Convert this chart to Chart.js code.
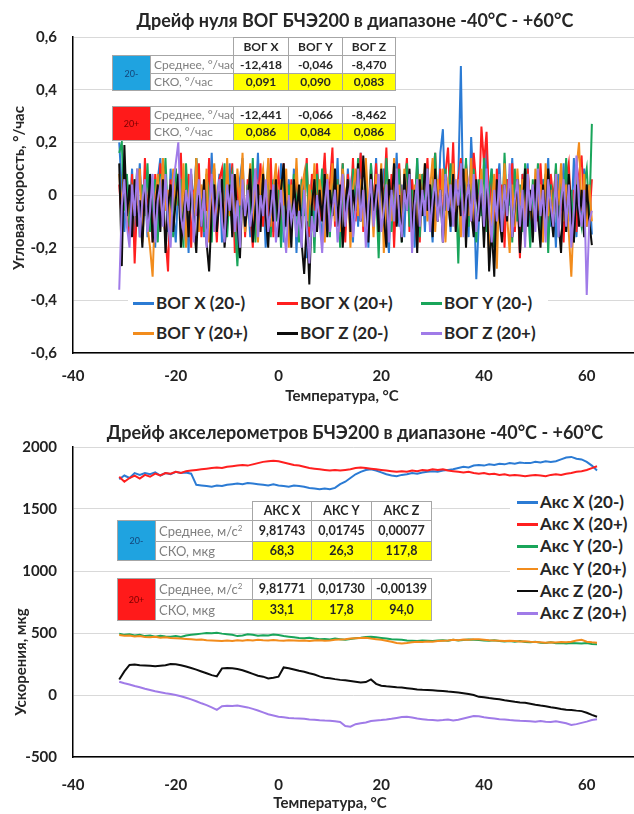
<!DOCTYPE html>
<html>
<head>
<meta charset="utf-8">
<script src="https://cdn.jsdelivr.net/npm/chart.js@4.4.1/dist/chart.umd.min.js"></script>
<style>
body { margin: 0; background: #fff; font-family: Lato, 'Open Sans', sans-serif; color: #262626; }
#page { position: relative; width: 634px; height: 814px; overflow: hidden; }
canvas { position: absolute; left: 0; }
.t { position: absolute; white-space: nowrap; font-weight: bold; transform: translate(-50%, -50%); }
.ttl { font-size: 18px; }
.ax { font-size: 15px; }
.rot { transform: translate(-50%, -50%) rotate(-90deg); }
.lg { position: absolute; background: #fff; }
.li { position: absolute; white-space: nowrap; font-weight: bold; font-size: 17px; line-height: 20px; height: 20px; }
.li i { position: absolute; left: 0; top: 9px; width: 21px; height: 2.5px; }
.li span { position: absolute; left: 23px; top: 0; }
table.st { position: absolute; border-collapse: collapse; table-layout: fixed; }
table.st td { border: 1px solid #a6a6a6; padding: 0; background: #fff; text-align: center; font-weight: bold;
  white-space: nowrap; overflow: hidden; line-height: 1; }
table.st td.e { border: none; background: transparent; }
table.st td.l { text-align: left; font-weight: normal; color: #7f7f7f; padding-left: 3px; }
table.st td.y { background: #ffff00; }
table.st td.c { font-size: 9px; font-weight: normal; }
</style>
</head>
<body>
<div id="page">
  <canvas id="gyro" width="634" height="404" style="top:0"></canvas>
  <canvas id="acc" width="634" height="404" style="top:410px"></canvas>
</div>
<script>
const xTickValues = [-40, -20, 0, 20, 40, 60];

// temperature, °C, for the gyro records (half-degree steps)
const gyroTemps = [
  -31, -30.5, -30, -29.5, -29, -28.5, -28, -27.5, -27, -26.5,
  -26, -25.5, -25, -24.5, -24, -23.5, -23, -22.5, -22, -21.5,
  -21, -20.5, -20, -19.5, -19, -18.5, -18, -17.5, -17, -16.5,
  -16, -15.5, -15, -14.5, -14, -13.5, -13, -12.5, -12, -11.5,
  -11, -10.5, -10, -9.5, -9, -8.5, -8, -7.5, -7, -6.5,
  -6, -5.5, -5, -4.5, -4, -3.5, -3, -2.5, -2, -1.5,
  -1, -0.5, 0, 0.5, 1, 1.5, 2, 2.5, 3, 3.5,
  4, 4.5, 5, 5.5, 6, 6.5, 7, 7.5, 8, 8.5,
  9, 9.5, 10, 10.5, 11, 11.5, 12, 12.5, 13, 13.5,
  14, 14.5, 15, 15.5, 16, 16.5, 17, 17.5, 18, 18.5,
  19, 19.5, 20, 20.5, 21, 21.5, 22, 22.5, 23, 23.5,
  24, 24.5, 25, 25.5, 26, 26.5, 27, 27.5, 28, 28.5,
  29, 29.5, 30, 30.5, 31, 31.5, 32, 32.5, 33, 33.5,
  34, 34.5, 35, 35.5, 36, 36.5, 37, 37.5, 38, 38.5,
  39, 39.5, 40, 40.5, 41, 41.5, 42, 42.5, 43, 43.5,
  44, 44.5, 45, 45.5, 46, 46.5, 47, 47.5, 48, 48.5,
  49, 49.5, 50, 50.5, 51, 51.5, 52, 52.5, 53, 53.5,
  54, 54.5, 55, 55.5, 56, 56.5, 57, 57.5, 58, 58.5,
  59, 59.5, 60, 60.5, 61
];

// gyro drift, °/час
const gyroX_minus = [
  0.20, 0.02, -0.14, 0.06, -0.08, 0.10, -0.18, -0.04, 0.12, -0.10,
  0.04, -0.16, 0.08, -0.02, -0.20, 0.06, 0.14, -0.08, 0.02, -0.14,
  0.10, -0.06, -0.18, 0.04, 0.12, -0.12, 0.00, -0.22, 0.08, -0.04,
  0.14, -0.10, 0.02, -0.16, 0.06, -0.06, 0.16, -0.12, -0.02, 0.08,
  -0.18, 0.04, -0.08, 0.12, -0.14, 0.02, -0.20, 0.06, 0.14, -0.10,
  0.00, -0.16, 0.10, -0.06, 0.16, -0.12, 0.04, -0.20, -0.06, 0.08,
  -0.14, 0.02, -0.10, 0.12, -0.18, -0.04, 0.06, -0.12, 0.10, -0.22,
  0.02, -0.08, 0.08, -0.24, -0.04, 0.06, -0.14, 0.10, -0.06, -0.18,
  0.12, -0.02, -0.14, 0.08, -0.08, 0.14, -0.16, 0.02, -0.10, 0.10,
  -0.06, -0.18, 0.06, -0.12, 0.16, -0.04, 0.04, -0.20, 0.12, -0.08,
  0.14, -0.14, 0.00, 0.10, -0.10, -0.22, 0.06, -0.04, 0.16, -0.12,
  0.04, -0.16, 0.12, -0.06, 0.02, -0.20, 0.14, -0.08, 0.06, -0.14,
  0.10, -0.04, -0.18, 0.08, -0.10, 0.16, 0.25, -0.06, 0.02, -0.14,
  0.12, -0.08, 0.06, 0.49, -0.10, 0.04, -0.16, 0.22, 0.02, -0.32,
  -0.10, 0.06, -0.14, 0.18, -0.06, 0.10, -0.20, 0.02, 0.12, -0.08,
  -0.16, 0.06, -0.04, 0.14, -0.12, 0.02, -0.22, 0.08, -0.06, 0.12,
  -0.14, 0.04, -0.10, 0.10, -0.18, 0.06, -0.02, 0.14, -0.12, 0.00,
  -0.20, 0.08, -0.06, 0.12, -0.14, 0.04, -0.10, 0.14, -0.16, 0.06,
  -0.08, 0.10, -0.12, 0.04, -0.15
];
const gyroX_plus = [
  0.04, -0.10, 0.12, -0.04, -0.16, 0.08, -0.26, -0.02, 0.10, -0.14,
  0.14, -0.06, 0.02, -0.18, 0.08, -0.10, 0.12, -0.04, -0.16, -0.29,
  0.06, -0.12, 0.10, -0.02, 0.16, -0.14, -0.04, 0.08, -0.20, 0.02,
  -0.08, 0.12, -0.16, 0.04, -0.06, 0.14, -0.12, 0.00, -0.18, 0.06,
  0.10, -0.14, 0.02, -0.08, 0.12, -0.22, 0.04, -0.04, 0.08, -0.16,
  0.06, -0.06, -0.20, 0.10, -0.02, 0.12, -0.12, 0.04, -0.08, 0.14,
  -0.16, 0.02, 0.08, -0.10, 0.12, -0.04, -0.18, 0.06, -0.08, 0.10,
  -0.12, 0.04, -0.02, 0.14, -0.16, 0.08, -0.06, 0.12, -0.10, 0.02,
  0.16, -0.08, 0.04, 0.18, -0.12, 0.06, -0.04, 0.12, -0.18, 0.08,
  -0.06, 0.14, -0.10, 0.04, 0.16, -0.14, 0.02, -0.08, 0.10, -0.04,
  0.12, -0.16, 0.06, -0.02, 0.18, -0.10, 0.08, -0.20, 0.04, 0.12,
  -0.08, 0.02, 0.14, -0.14, 0.06, -0.04, 0.10, -0.18, 0.08, -0.02,
  0.14, -0.10, 0.04, 0.16, -0.06, 0.10, -0.14, 0.08, 0.18, -0.04,
  0.20, -0.12, 0.06, 0.14, -0.08, 0.12, 0.02, -0.10, 0.16, 0.04,
  -0.06, 0.26, 0.12, 0.24, -0.04, 0.08, -0.16, 0.10, -0.10, 0.04,
  -0.20, 0.06, -0.02, 0.12, -0.14, 0.02, -0.24, 0.08, -0.08, 0.10,
  -0.04, -0.16, 0.06, -0.10, 0.12, -0.06, 0.02, -0.14, 0.08, -0.02,
  0.10, -0.12, 0.04, -0.18, 0.06, 0.12, -0.08, 0.02, -0.14, 0.08,
  0.15, -0.06, 0.04, -0.10, 0.06
];
const gyroY_minus = [
  0.16, 0.20, -0.06, 0.08, -0.12, 0.02, -0.04, 0.10, -0.16, 0.04,
  -0.08, 0.12, -0.14, -0.02, 0.06, -0.18, 0.08, -0.06, 0.14, -0.10,
  0.02, -0.16, 0.10, -0.04, 0.06, -0.20, 0.12, -0.08, 0.04, -0.12,
  0.14, -0.06, 0.02, -0.14, 0.08, -0.02, -0.18, 0.10, -0.10, 0.04,
  -0.04, 0.12, -0.16, 0.02, 0.08, -0.10, -0.27, -0.06, 0.10, -0.14,
  0.04, -0.08, 0.14, -0.18, 0.00, -0.12, 0.08, -0.04, 0.12, -0.16,
  0.06, -0.10, 0.02, -0.20, 0.10, -0.06, 0.04, -0.14, 0.08, -0.02,
  -0.18, 0.06, -0.08, 0.12, -0.12, 0.02, -0.22, 0.08, -0.04, 0.10,
  -0.10, 0.04, -0.16, 0.10, -0.02, 0.06, -0.20, 0.12, -0.08, 0.02,
  -0.14, 0.10, -0.04, 0.14, -0.10, -0.02, 0.06, -0.16, 0.12, -0.06,
  0.02, -0.24, 0.08, -0.10, 0.14, -0.04, -0.14, 0.06, -0.08, 0.10,
  -0.18, 0.04, 0.12, -0.12, 0.02, -0.06, 0.14, -0.16, 0.08, -0.02,
  0.10, -0.12, 0.04, 0.16, -0.08, 0.02, -0.14, 0.10, -0.04, 0.12,
  -0.10, 0.04, -0.26, 0.08, -0.06, 0.14, -0.12, 0.02, 0.10, -0.18,
  0.06, -0.08, 0.14, -0.14, 0.02, 0.10, -0.20, -0.04, 0.08, -0.12,
  0.16, -0.06, 0.02, -0.18, 0.10, -0.10, 0.04, -0.14, 0.12, -0.02,
  -0.20, 0.06, -0.08, 0.12, -0.14, 0.02, 0.08, -0.22, 0.04, -0.06,
  0.12, -0.16, 0.06, -0.04, 0.14, -0.10, 0.02, -0.18, 0.10, -0.06,
  -0.12, 0.04, 0.10, -0.08, 0.27
];
const gyroY_plus = [
  0.08, -0.06, 0.12, -0.10, 0.02, -0.14, 0.06, -0.04, 0.10, -0.18,
  0.04, -0.12, -0.20, -0.31, -0.02, 0.08, -0.10, 0.14, -0.06, 0.02,
  -0.16, 0.10, -0.04, 0.06, -0.12, 0.12, -0.20, 0.00, 0.08, -0.08,
  0.14, -0.14, 0.04, -0.06, 0.10, -0.18, 0.02, 0.12, -0.10, -0.02,
  0.06, -0.16, 0.14, -0.08, 0.02, -0.12, 0.10, -0.04, 0.16, -0.14,
  -0.02, 0.12, -0.10, 0.06, -0.18, 0.04, 0.10, -0.06, 0.14, -0.12,
  0.02, 0.12, -0.14, 0.06, -0.04, 0.10, -0.20, 0.04, -0.08, 0.14,
  -0.10, 0.02, 0.08, -0.16, 0.04, -0.06, 0.12, -0.12, 0.06, -0.02,
  -0.18, 0.08, -0.04, 0.12, -0.10, 0.04, -0.14, 0.10, -0.02, 0.06,
  -0.20, 0.02, 0.10, -0.08, 0.06, -0.12, 0.14, -0.04, 0.02, -0.16,
  0.08, -0.06, 0.12, -0.22, -0.04, 0.06, -0.10, 0.14, -0.08, 0.04,
  -0.16, 0.10, -0.02, 0.06, -0.12, 0.04, -0.20, 0.08, -0.04, 0.12,
  -0.10, 0.02, 0.14, -0.14, 0.06, -0.06, 0.10, -0.18, 0.04, -0.02,
  0.12, -0.10, 0.06, -0.16, 0.02, 0.10, -0.08, 0.14, -0.12, 0.04,
  -0.06, 0.10, -0.14, 0.02, -0.24, -0.04, 0.08, -0.28, 0.06, -0.10,
  0.12, -0.08, -0.22, 0.04, -0.12, 0.10, -0.04, 0.06, -0.16, 0.08,
  -0.02, -0.14, 0.10, -0.06, 0.04, -0.18, 0.12, -0.08, 0.02, -0.12,
  0.08, -0.04, 0.12, -0.10, 0.04, -0.14, -0.31, -0.06, 0.10, 0.20,
  -0.06, 0.08, -0.12, 0.04, -0.10
];
const gyroZ_minus = [
  0.12, -0.27, 0.19, -0.08, 0.04, -0.16, 0.06, -0.12, -0.02, -0.20,
  0.02, -0.10, 0.08, -0.18, -0.06, 0.04, -0.14, 0.06, -0.22, -0.04,
  0.04, -0.14, -0.02, 0.08, -0.20, -0.08, 0.02, -0.16, 0.06, -0.10,
  -0.22, 0.00, -0.12, 0.06, -0.18, -0.29, -0.06, 0.04, -0.14, -0.02,
  0.06, -0.20, -0.08, 0.04, -0.16, 0.08, -0.10, -0.24, 0.02, -0.12,
  -0.04, 0.10, -0.18, -0.06, 0.04, -0.14, 0.08, -0.08, -0.20, 0.02,
  -0.10, 0.06, -0.16, 0.02, 0.12, -0.12, -0.02, -0.20, 0.06, -0.08,
  0.04, -0.18, -0.30, -0.10, -0.34, -0.04, 0.06, -0.14, 0.02, -0.10,
  0.08, -0.16, 0.02, -0.08, 0.10, -0.12, 0.04, -0.20, -0.04, 0.06,
  -0.14, 0.02, -0.06, 0.12, -0.10, 0.15, -0.02, -0.18, 0.08, -0.06,
  0.04, -0.14, 0.10, -0.08, -0.20, 0.06, -0.04, 0.12, -0.12, 0.00,
  -0.18, 0.08, -0.06, 0.10, -0.14, 0.02, -0.22, 0.06, -0.08, 0.12,
  -0.06, 0.04, -0.16, 0.10, -0.10, 0.02, -0.18, 0.06, -0.02, -0.12,
  0.08, -0.14, 0.02, -0.08, 0.10, -0.20, 0.04, -0.06, -0.16, 0.06,
  -0.10, 0.02, -0.20, 0.04, -0.29, -0.12, -0.31, 0.06, -0.08, -0.18,
  0.04, -0.10, 0.08, -0.16, -0.04, 0.06, -0.22, -0.06, 0.10, -0.12,
  0.02, -0.18, 0.06, -0.08, -0.20, 0.04, -0.12, 0.10, -0.06, -0.16,
  0.06, -0.10, -0.22, 0.02, -0.14, 0.08, -0.08, -0.18, 0.04, -0.12,
  0.02, -0.16, 0.04, -0.10, -0.19
];
const gyroZ_plus = [
  -0.36, -0.04, 0.06, -0.12, -0.20, 0.04, -0.08, 0.10, -0.16, -0.02,
  0.06, -0.14, -0.06, 0.08, -0.18, -0.02, 0.04, -0.12, 0.08, -0.10,
  -0.20, 0.04, 0.12, 0.20, -0.08, -0.14, 0.02, -0.06, 0.10, -0.18,
  -0.04, 0.06, -0.12, 0.02, -0.20, -0.06, 0.08, -0.14, -0.02, 0.06,
  -0.10, -0.18, 0.04, -0.06, 0.08, -0.14, -0.02, -0.20, 0.06, -0.08,
  0.02, -0.12, -0.04, 0.10, -0.16, 0.00, -0.08, 0.06, -0.14, -0.06,
  0.04, -0.18, -0.08, 0.02, -0.12, -0.22, 0.00, -0.10, -0.04, -0.16,
  -0.06, -0.20, 0.02, -0.12, -0.26, -0.08, -0.16, 0.00, -0.10, -0.22,
  -0.04, 0.06, -0.14, -0.06, 0.02, -0.18, -0.08, 0.08, -0.12, -0.02,
  0.04, -0.16, -0.06, 0.10, -0.10, 0.02, -0.20, -0.04, 0.06, -0.12,
  -0.02, 0.08, -0.14, -0.06, 0.04, -0.18, 0.02, -0.10, 0.10, -0.08,
  -0.16, 0.02, -0.06, 0.08, -0.22, -0.04, 0.06, -0.12, 0.02, -0.08,
  0.10, -0.14, -0.02, 0.06, -0.10, 0.02, -0.18, 0.08, -0.06, 0.04,
  -0.12, 0.06, -0.04, 0.12, -0.16, -0.02, 0.04, -0.10, 0.08, -0.14,
  -0.04, 0.06, -0.12, 0.10, -0.06, -0.18, 0.02, -0.10, 0.08, -0.14,
  0.04, -0.08, 0.12, -0.16, -0.02, 0.06, -0.12, 0.02, -0.20, 0.08,
  -0.06, 0.04, -0.14, 0.10, -0.08, 0.02, -0.18, 0.06, -0.04, -0.12,
  0.08, -0.16, -0.02, 0.06, -0.12, 0.04, -0.20, -0.06, 0.15, -0.04,
  -0.12, 0.02, -0.38, -0.10, -0.06
];

// temperature, °C, for the accelerometer records
const accTemps = [
  -31, -30, -29, -28, -27, -26, -25, -24, -23, -22,
  -21, -20, -19, -18, -17, -16, -15, -14, -13, -12,
  -11, -10, -9, -8, -7, -6, -5, -4, -3, -2,
  -1, 0, 1, 2, 3, 4, 5, 6, 7, 8,
  9, 10, 11, 12, 13, 14, 15, 16, 17, 18,
  19, 20, 21, 22, 23, 24, 25, 26, 27, 28,
  29, 30, 31, 32, 33, 34, 35, 36, 37, 38,
  39, 40, 41, 42, 43, 44, 45, 46, 47, 48,
  49, 50, 51, 52, 53, 54, 55, 56, 57, 58,
  59, 60, 61, 62
];

// accelerometer drift, мкg
const accX_minus = [
  1740, 1770, 1750, 1790, 1775, 1790, 1780, 1795, 1770, 1790,
  1780, 1800, 1790, 1795, 1785, 1695, 1690, 1685, 1680, 1690,
  1685, 1695, 1700, 1705, 1700, 1710, 1705, 1700, 1695, 1690,
  1700, 1690, 1685, 1680, 1690, 1685, 1680, 1670, 1665, 1660,
  1665, 1660, 1670, 1700, 1720, 1750, 1780, 1800, 1815, 1820,
  1810, 1795, 1780, 1770, 1765, 1775, 1780, 1790, 1785, 1795,
  1800, 1805, 1800, 1810, 1815, 1820, 1830, 1840, 1835, 1850,
  1855, 1850, 1860, 1855, 1865, 1860, 1870, 1865, 1875, 1870,
  1870, 1880, 1875, 1885, 1880, 1885, 1900, 1915, 1920, 1905,
  1900, 1880, 1850, 1810
];
const accX_plus = [
  1760, 1720, 1750, 1770, 1745, 1775, 1760, 1785, 1770, 1790,
  1785, 1800, 1790, 1805, 1810, 1815, 1820, 1825, 1830, 1835,
  1830, 1840, 1845, 1850, 1855, 1850, 1860, 1870, 1880, 1885,
  1890, 1885, 1875, 1865, 1855, 1850, 1840, 1830, 1825, 1820,
  1815, 1810, 1815, 1810, 1815, 1820, 1830, 1835, 1830, 1825,
  1820, 1815, 1810, 1805, 1800, 1805, 1800, 1810, 1805, 1815,
  1810, 1820, 1815, 1820, 1810, 1805, 1800, 1795, 1800, 1790,
  1785, 1790, 1780, 1785, 1775, 1780, 1770, 1775, 1770, 1765,
  1770, 1775, 1770, 1765, 1775, 1780, 1775, 1785, 1790, 1800,
  1805, 1815, 1830, 1845
];
const accY_minus = [
  495, 485, 490, 480, 485, 475, 480, 470, 478, 472,
  470, 475, 468, 480, 485, 490, 495, 500, 498, 502,
  495, 490, 485, 475, 480, 490, 485, 478, 482, 480,
  488, 484, 475, 470, 465, 460, 458, 462, 455, 450,
  452, 448, 455, 450, 445, 452, 458, 462, 468, 470,
  465, 460, 455, 450, 448, 445, 440, 438, 435, 440,
  438, 435, 440, 442, 438, 445, 440, 443, 448, 445,
  443, 440, 438, 442, 436, 432, 435, 430, 435, 428,
  425, 430, 422, 420, 425, 418, 420, 416, 420, 418,
  415, 420, 412, 410
];
const accY_plus = [
  484, 478, 480, 472, 475, 468, 465, 470, 462, 465,
  460, 458, 455, 452, 449, 445, 448, 442, 440, 438,
  436, 440, 435, 442, 438, 443, 440, 445, 442, 440,
  443, 440, 438, 442, 440, 438, 440, 436, 440, 442,
  438, 440, 445, 448, 450, 455, 458, 460, 462, 455,
  450, 445, 438, 430, 420, 416, 420, 425, 430, 428,
  432, 430, 435, 438, 440, 445, 442, 448, 446, 449,
  450, 446, 442, 440, 438, 436, 438, 435, 432, 434,
  430, 428, 425, 422, 426, 424, 428, 425, 430, 440,
  445, 430, 425, 422
];
const accZ_minus = [
  125, 190, 242, 245, 240, 238, 235, 232, 236, 240,
  250, 248, 240, 230, 218, 205, 190, 175, 160, 150,
  215, 218, 215, 210, 200, 185, 170, 155, 148, 134,
  140, 148, 222, 215, 205, 195, 188, 175, 165, 150,
  140, 135, 128, 122, 118, 112, 106, 100, 104, 126,
  90, 75, 70, 66, 62, 60, 55, 50, 45, 42,
  40, 38, 35, 32, 28, 25, 20, 15, 8, 0,
  -15, -19, -25, -30, -35, -42, -48, -55, -60, -62,
  -70, -78, -85, -90, -98, -105, -112, -118, -121, -126,
  -130, -143, -160, -175
];
const accZ_plus = [
  107, 95, 85, 72, 62, 50, 40, 30, 22, 14,
  8, 0, -10, -22, -35, -50, -67, -82, -100, -120,
  -90, -86, -88, -84, -92, -100, -112, -125, -140, -155,
  -165, -175, -180, -185, -188, -190, -192, -198, -200, -204,
  -206, -207, -212, -218, -250, -255, -235, -228, -222, -210,
  -205, -202, -198, -192, -185, -178, -175, -182, -190, -195,
  -200, -202, -205, -202, -198, -205, -200, -190, -180, -170,
  -172, -180, -185, -190, -195, -198, -202, -205, -208, -210,
  -212, -215, -210, -215, -218, -212, -220, -228, -242, -235,
  -225, -215, -202, -195
];

const colors = ['#2b7bd4', '#ff1f1f', '#19a55a', '#f28c1c', '#0d0d0d', '#a07be8'];
const gyroNames = ['ВОГ X (20-)', 'ВОГ X (20+)', 'ВОГ Y (20-)', 'ВОГ Y (20+)', 'ВОГ Z (20-)', 'ВОГ Z (20+)'];
const accNames = ['Акс X (20-)', 'Акс X (20+)', 'Акс Y (20-)', 'Акс Y (20+)', 'Акс Z (20-)', 'Акс Z (20+)'];

// table contents
const gyroHead = ['ВОГ X', 'ВОГ Y', 'ВОГ Z'];
const gyroLabels = ['Среднее, °/час', 'СКО, °/час'];
const gyroMeanMinus = ['-12,418', '-0,046', '-8,470'];
const gyroSkoMinus = ['0,091', '0,090', '0,083'];
const gyroMeanPlus = ['-12,441', '-0,066', '-8,462'];
const gyroSkoPlus = ['0,086', '0,084', '0,086'];
const accHead = ['АКС X', 'АКС Y', 'АКС Z'];
const accLabels = ['Среднее, м/с<sup style="font-size:8px;line-height:0">2</sup>', 'СКО, мкg'];
const accMeanMinus = ['9,81743', '0,01745', '0,00077'];
const accSkoMinus = ['68,3', '26,3', '117,8'];
const accMeanPlus = ['9,81771', '0,01730', '-0,00139'];
const accSkoPlus = ['33,1', '17,8', '94,0'];

const FONT = "Lato, 'Open Sans', sans-serif";
const page = document.getElementById('page');

function buildChart(id, xs, series, yMin, yMax, yStep, fmt, xPad, xHeight) {
    const datasets = series.map((vals, k) => ({
        data: vals.map((v, i) => ({x: xs[i], y: v})),
        borderColor: colors[k],
        borderWidth: 2,
        pointRadius: 0,
        tension: 0,
        fill: false,
        order: series.length - 1 - k   // last series on top, like the original
    }));
    return new Chart(document.getElementById(id), {
        type: 'line',
        data: {datasets: datasets},
        options: {
            responsive: false,
            animation: false,
            devicePixelRatio: 1,
            layout: {padding: {top: 37, left: 0, right: 0, bottom: 0}},
            plugins: {legend: {display: false}, title: {display: false}, tooltip: {enabled: false}},
            scales: {
                x: {
                    type: 'linear', min: -40, max: 69.2,
                    ticks: {padding: xPad, maxRotation: 0, autoSkip: false, color: '#222',
                            font: {family: FONT, size: 15, weight: 'bold'}},
                    afterBuildTicks: s => { s.ticks = xTickValues.map(v => ({value: v})); },
                    afterFit: s => { s.height = xHeight; },
                    grid: {display: false, drawTicks: false},
                    border: {color: '#000', width: 1.5}
                },
                y: {
                    min: yMin, max: yMax,
                    ticks: {stepSize: yStep, padding: 16, color: '#222', callback: fmt,
                            font: {family: FONT, size: 15, weight: 'bold'}},
                    afterFit: s => { s.width = 73; },
                    grid: {color: '#d9d9d9', lineWidth: 1, drawTicks: false},
                    border: {color: '#000', width: 1.5}
                }
            }
        }
    });
}

function addText(text, cx, cy, cls) {
    const d = document.createElement('div');
    d.className = 't ' + cls;
    d.style.left = cx + 'px';
    d.style.top = cy + 'px';
    d.textContent = text;
    page.appendChild(d);
}

function addLegend(box, items) {
    const b = document.createElement('div');
    b.className = 'lg';
    Object.assign(b.style, {left: box[0] + 'px', top: box[1] + 'px', width: box[2] + 'px', height: box[3] + 'px'});
    page.appendChild(b);
    items.forEach(it => {
        const d = document.createElement('div');
        d.className = 'li';
        d.style.left = it.x + 'px';
        d.style.top = (it.y - 10) + 'px';
        d.innerHTML = `<i style="background:${it.color}"></i><span>${it.name}</span>`;
        page.appendChild(d);
    });
}

function statTable(left, top, widths, heights, head, bg, fg, tag, labels, means, skos, fsVal, fsLab) {
    const t = document.createElement('table');
    t.className = 'st';
    t.style.left = left + 'px';
    t.style.top = top + 'px';
    t.style.width = widths.reduce((a, b) => a + b, 0) + 'px';
    t.style.fontSize = fsVal + 'px';
    let html = '<colgroup>' + widths.map(w => `<col style="width:${w}px">`).join('') + '</colgroup>';
    let h = 0;
    if (head) {
        html += `<tr style="height:${heights[h++]}px"><td class="e" colspan="2"></td>` +
            head.map(s => `<td>${s}</td>`).join('') + '</tr>';
    }
    html += `<tr style="height:${heights[h++]}px"><td class="c" rowspan="2" style="background:${bg};color:${fg}">${tag}</td>` +
        `<td class="l" style="font-size:${fsLab}px">${labels[0]}</td>` + means.map(s => `<td>${s}</td>`).join('') + '</tr>';
    html += `<tr style="height:${heights[h++]}px"><td class="l" style="font-size:${fsLab}px">${labels[1]}</td>` +
        skos.map(s => `<td class="y">${s}</td>`).join('') + '</tr>';
    t.innerHTML = html;
    page.appendChild(t);
}

buildChart('gyro', gyroTemps, [gyroX_minus, gyroX_plus, gyroY_minus, gyroY_plus, gyroZ_minus, gyroZ_plus],
    -0.6, 0.6, 0.2, v => Math.abs(v) < 1e-9 ? '0' : v.toFixed(1).replace('.', ','), 14, 51);
buildChart('acc', accTemps, [accX_minus, accX_plus, accY_minus, accY_plus, accZ_minus, accZ_plus],
    -500, 2000, 500, v => String(Math.round(v)), 19, 57);

// titles
addText('Дрейф нуля ВОГ БЧЭ200 в диапазоне -40°C - +60°C', 355, 20, 'ttl');
addText('Температура, °C', 342, 395, 'ax');
addText('Угловая скорость, °/час', 18, 188, 'ax rot');
addText('Дрейф акселерометров БЧЭ200 в диапазоне -40°C - +60°C', 355, 432, 'ttl');
addText('Температура, °C', 330, 802, 'ax');
addText('Ускорения, мкg', 20, 662, 'ax rot');

// legends
const gyroCols = [133, 277, 421];
addLegend([128, 288, 420, 63], gyroNames.map((n, k) => ({
    name: n, color: colors[k], x: gyroCols[k % 3], y: k < 3 ? 303 : 333
})));
addLegend([510, 488, 124, 138], accNames.map((n, k) => ({
    name: n, color: colors[k], x: 517, y: 502 + k * 22.2
})));

// stats tables
statTable(112, 37, [38, 83, 55, 54, 53], [18, 18, 17], gyroHead, '#1fa3e0', '#14467a', '20-',
    gyroLabels, gyroMeanMinus, gyroSkoMinus, 12, 12);
statTable(112, 106, [38, 83, 55, 54, 53], [17, 17], null, '#ff1a1a', '#7a0000', '20+',
    gyroLabels, gyroMeanPlus, gyroSkoPlus, 12, 12);
statTable(117, 501, [38, 97, 59, 60, 60], [19, 21, 19], accHead, '#1fa3e0', '#14467a', '20-',
    accLabels, accMeanMinus, accSkoMinus, 12.5, 13);
statTable(117, 578, [38, 97, 59, 60, 60], [21, 21], null, '#ff1a1a', '#7a0000', '20+',
    accLabels, accMeanPlus, accSkoPlus, 12.5, 13);
</script>
</body>
</html>
